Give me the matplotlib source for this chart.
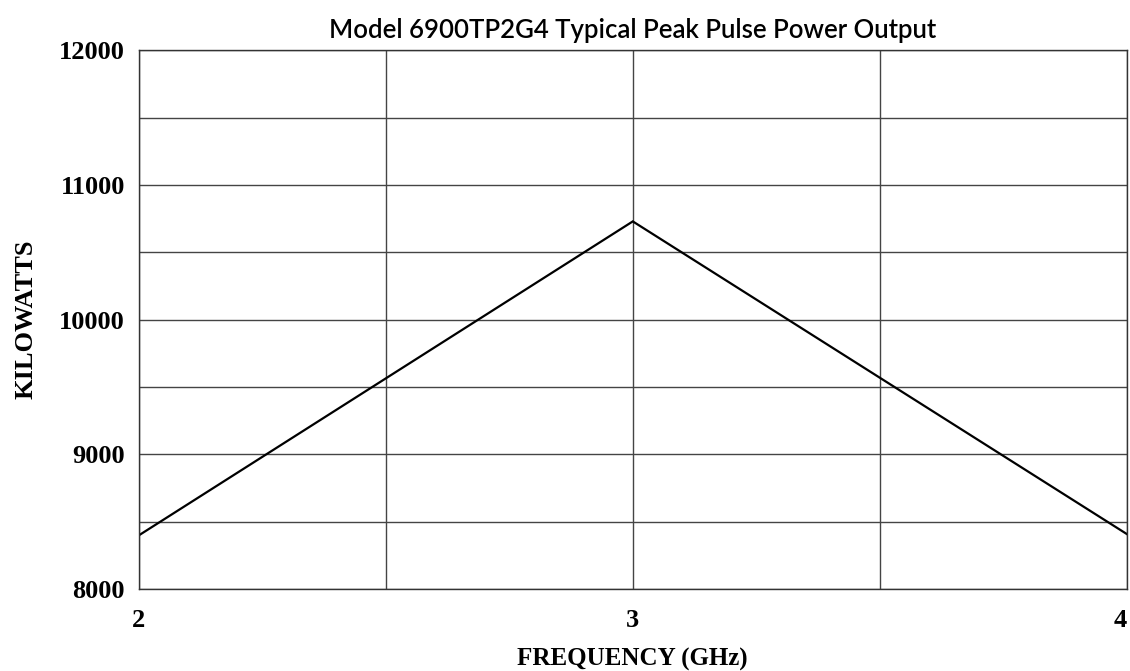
import numpy as np
import matplotlib
matplotlib.use("Agg")
import matplotlib.pyplot as plt
from matplotlib.ticker import MultipleLocator

# Data
freq_ghz = [2, 3, 4]
power_kw = [8400, 10730, 8410]

x_ticks = [2, 3, 4]
y_ticks = [8000, 9000, 10000, 11000, 12000]

title = "Model 6900TP2G4 Typical Peak Pulse Power Output"
x_label = "FREQUENCY (GHz)"
y_label = "KILOWATTS"

fig = plt.figure(figsize=(11.3, 6.71), dpi=100)
ax = fig.add_axes([0.123, 0.122, 0.874, 0.803])

ax.plot(freq_ghz, power_kw, color="black", linewidth=1.6, solid_joinstyle="miter")

ax.set_xlim(2, 4)
ax.set_ylim(8000, 12000)
ax.set_xticks(x_ticks, [str(t) for t in x_ticks])
ax.set_yticks(y_ticks, [str(t) for t in y_ticks])
ax.xaxis.set_minor_locator(MultipleLocator(0.5))
ax.yaxis.set_minor_locator(MultipleLocator(500))

ax.grid(which="both", color="#444444", linewidth=1.0)
ax.set_axisbelow(True)
ax.tick_params(which="both", length=0)
ax.tick_params(axis="x", pad=14)
ax.tick_params(axis="y", pad=10)

for spine in ax.spines.values():
    spine.set_color("#333333")
    spine.set_linewidth(1.0)

for lbl in ax.get_xticklabels() + ax.get_yticklabels():
    lbl.set_fontfamily("Liberation Serif")
    lbl.set_fontweight("bold")
    lbl.set_fontsize(19)
# the last frequency label sits flush against the right edge
ax.get_xticklabels()[-1].set_horizontalalignment("right")

ax.set_xlabel(x_label, fontfamily="Liberation Serif", fontweight="bold", fontsize=18, labelpad=12)
ax.set_ylabel(y_label, fontfamily="Liberation Serif", fontweight="bold", fontsize=19, labelpad=16)
ax.set_title(title, fontfamily="Lato", fontweight="semibold", fontsize=18.5, pad=9)

fig.savefig("out.png", dpi=100)
